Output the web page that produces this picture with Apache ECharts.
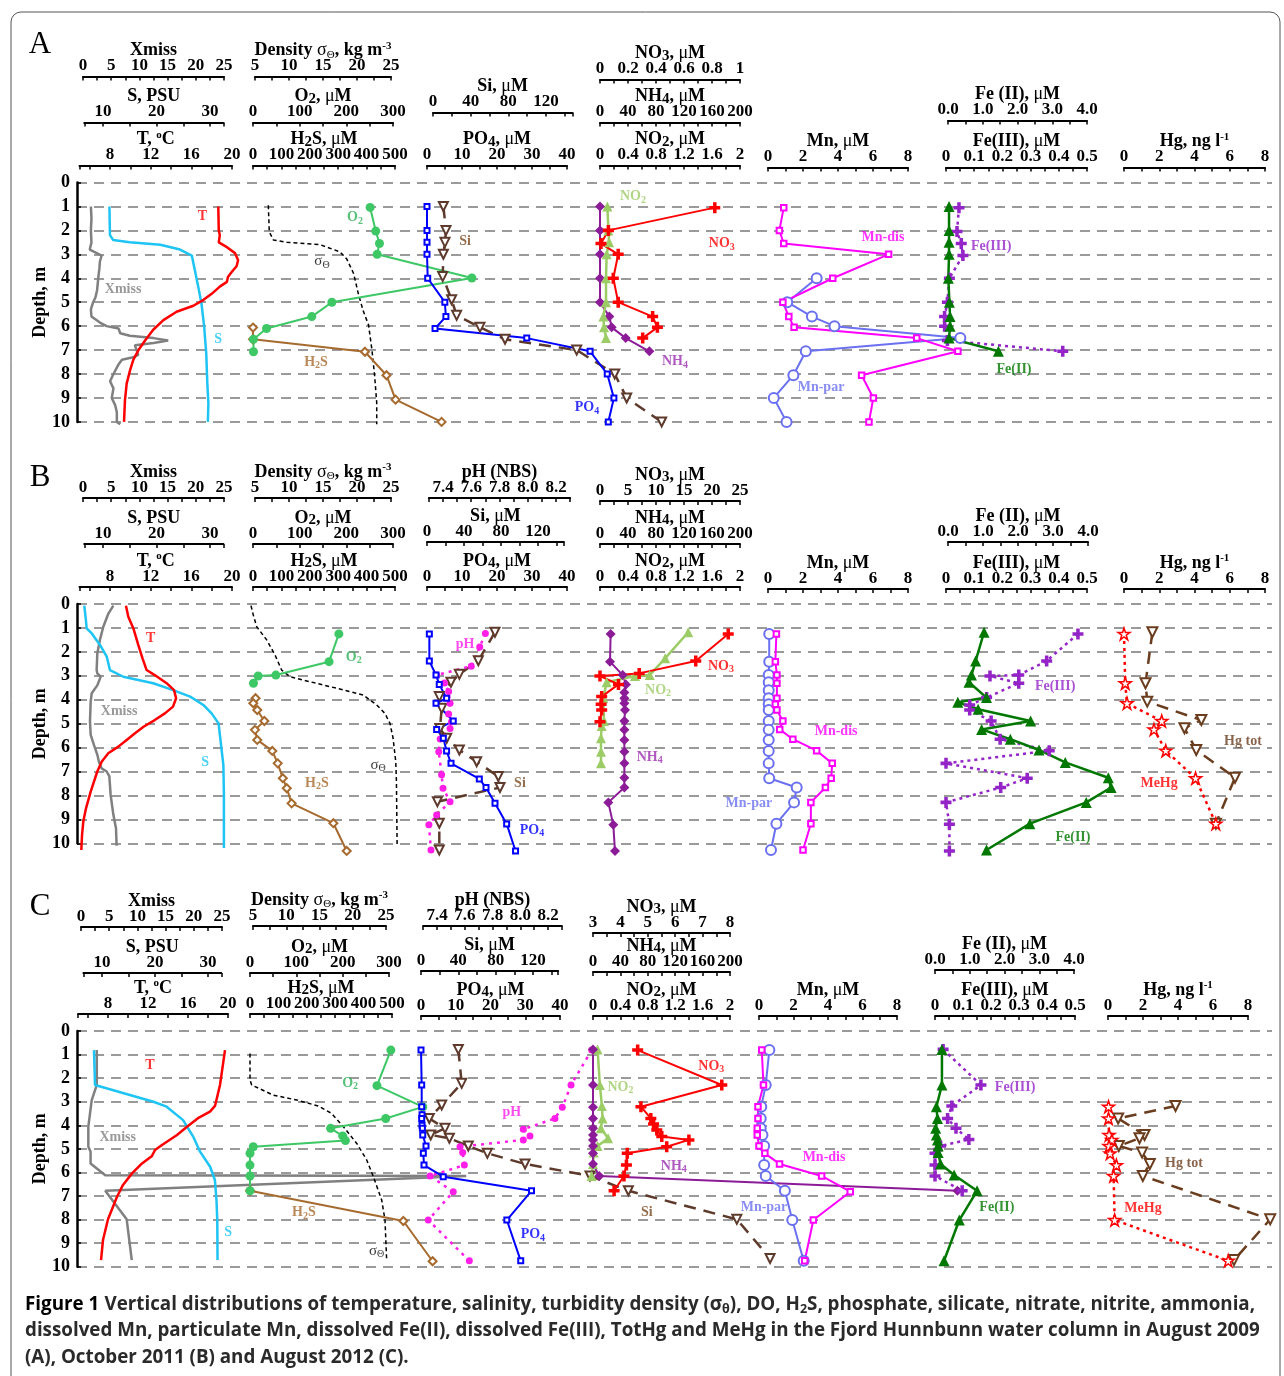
<!DOCTYPE html>
<html><head><meta charset="utf-8">
<script src="https://cdn.jsdelivr.net/npm/echarts@6.0.0/dist/echarts.min.js"></script>
<style>html,body{margin:0;padding:0;background:#fff}#c{width:1284px;height:1376px}</style>
</head><body><div id="c"></div>
<script>
// ================= DATA (each point: [depth m, value]) =================
// ---- Panel A: August 2009 ----
const A_XMISS = [[1.0,1.4],[1.5,1.5],[2.0,1.4],[2.5,1.5],[2.8,1.2],[2.9,2.0],[3.05,3.3],[3.3,3.0],[3.6,2.9],[4.0,2.7],[4.5,2.5],[4.8,2.2],[5.0,1.8],[5.3,1.4],[5.6,1.5],[5.85,3.0],[6.0,4.2],[6.1,6.3],[6.3,6.6],[6.4,8.3],[6.5,12.5],[6.6,15.1],[6.7,12.5],[6.8,9.2],[7.0,9.5],[7.2,9.8],[7.3,8.9],[7.4,6.9],[7.6,6.3],[8.0,5.4],[8.3,4.8],[8.6,5.4],[9.0,5.1],[9.3,5.7],[9.6,6.0],[10.0,6.0],[10.1,6.6]];
const A_SAL = [[1.0,11.2],[2.2,11.3],[2.4,11.9],[2.5,15.0],[2.6,20.7],[2.8,24.4],[3.05,26.6],[3.7,27.2],[4.35,27.8],[5.05,28.4],[6.0,28.9],[7.15,29.3],[8.4,29.5],[9.2,29.7],[10.0,29.6]];
const A_TEMP = [[1.0,18.65],[2.0,18.7],[2.2,18.8],[2.5,18.7],[2.7,19.5],[2.95,20.3],[3.25,20.6],[3.5,20.45],[3.75,19.95],[3.95,19.6],[4.15,19.5],[4.35,18.8],[4.65,18.0],[4.9,17.2],[5.15,16.2],[5.4,14.55],[5.75,13.25],[6.15,12.25],[6.6,11.45],[7.0,10.8],[7.4,10.3],[7.85,9.97],[8.4,9.64],[9.1,9.47],[10.0,9.38]];
const A_DENS = [[0.95,6.96],[2.06,7.1],[2.4,7.7],[2.5,9.66],[2.6,14.6],[2.9,17.5],[3.2,18.5],[3.8,19.5],[4.65,20.2],[5.35,20.9],[5.95,21.7],[7.0,22.2],[8.1,22.6],[9.2,22.9],[10.1,22.9]];
const A_O2 = [[1.04,251],[2.03,263],[2.55,271],[3.0,266],[3.99,469],[5.0,169],[5.6,126],[6.1,29],[6.55,1],[7.07,1]];
const A_H2S = [[6.06,0],[6.55,0],[7.07,394],[8.05,470],[9.07,502],[10.0,664]];
const A_PO4 = [[1.0,0],[2.0,0],[2.5,0],[3.0,0],[4.0,0.2],[5.0,5.1],[5.6,5.4],[6.1,2.3],[6.5,28.5],[7.05,46.6],[8.0,51.5],[9.0,53.4],[10.0,51.8]];
const A_SI = [[1.0,11],[2.0,13.8],[2.5,12.7],[3.0,11],[3.93,10.3],[4.9,19.8],[5.55,25.1],[6.05,49.9],[6.55,76.5],[7.0,152.6],[8.0,193],[9.0,205.7],[10.0,242.8]];
const A_NO2 = [[1.0,0.105],[2.0,0.12],[2.5,0.13],[3.0,0.095],[4.0,0.086],[5.0,0.086],[5.6,0.048],[6.05,0.057],[6.5,0.086]];
const A_NO3 = [[1.05,0.82],[2.0,0.06],[2.55,0.007],[3.0,0.13],[4.0,0.095],[5.0,0.13],[5.6,0.376],[6.05,0.41],[6.5,0.305]];
const A_NH4 = [[1.0,0],[2.0,0],[3.0,0],[4.0,0],[5.0,0],[5.6,13.3],[6.05,16.7],[6.5,36.7],[7.05,70.5]];
const A_MNDIS = [[1.05,0.90],[2.0,0.65],[2.55,0.90],[3.0,6.89],[4.0,3.70],[5.0,0.85],[5.6,1.19],[6.05,1.49],[6.5,8.50],[7.05,10.85],[8.05,5.35],[9.0,6.02],[10.0,5.77]];
const A_MNPAR = [[4.0,2.78],[5.0,1.10],[5.6,2.51],[6.0,3.80],[6.5,10.99],[7.05,2.16],[8.05,1.45],[9.0,0.33],[10.0,1.06]];
const A_FE2 = [[1.0,0.03],[2.0,0.03],[2.5,0.03],[3.0,0.03],[4.0,0.01],[5.0,0.04],[5.6,0.06],[6.0,0.06],[6.5,0.03],[7.05,1.45]];
const A_FE3 = [[1.05,0.046],[2.05,0.039],[2.55,0.054],[3.05,0.06],[4.0,0.012],[5.0,0.005],[5.6,-0.005],[6.0,-0.005],[6.6,0.005],[7.05,0.414]];

// ---- Panel B: October 2011 ----
const B_XMISS = [[0.07,5.38],[0.4,4.5],[0.95,3.6],[1.5,3.0],[2.06,2.54],[2.76,2.42],[2.9,2.54],[3.04,3.13],[3.4,2.54],[3.73,1.54],[4.08,1.36],[4.9,1.24],[5.47,1.36],[5.9,1.95],[6.3,2.54],[6.6,2.84],[6.87,3.3],[7.0,4.2],[7.2,4.67],[7.98,4.9],[8.8,5.38],[9.37,5.85],[10.1,5.96]];
const B_SAL = [[0.07,6.5],[0.6,6.77],[1.02,6.95],[1.23,7.9],[1.71,9.44],[2.2,10.7],[2.76,11.3],[3.04,13.8],[3.31,19.4],[3.6,23.1],[3.87,26.3],[4.22,28.75],[4.57,30.3],[4.99,31.6],[5.96,32.1],[6.73,32.5],[7.98,32.6],[10.2,32.6]];
const B_TEMP = [[0.07,9.57],[0.53,9.8],[1.02,10.3],[1.71,10.78],[2.27,11.2],[2.76,11.6],[2.97,12.4],[3.31,13.57],[3.6,14.3],[3.94,14.5],[4.29,14.2],[4.57,13.4],[4.85,12.4],[5.13,11.3],[5.4,10.46],[5.68,9.64],[5.96,8.82],[6.24,7.83],[6.59,7.18],[7.0,6.75],[7.84,6.1],[8.54,5.64],[9.1,5.37],[9.65,5.25],[10.28,5.18]];
const B_DENS = [[0.07,4.41],[0.46,4.75],[0.95,5.25],[1.5,6.72],[2.13,7.94],[2.76,8.92],[3.04,10.15],[3.25,13.1],[3.52,17.0],[3.8,20.9],[4.22,22.9],[4.57,24.1],[4.99,24.85],[5.6,25.3],[6.59,25.7],[7.42,25.8],[10.1,25.9]];
const B_O2 = [[1.25,184],[2.41,163],[2.97,49],[3.01,11],[3.31,1]];
const B_H2S = [[3.94,9],[4.15,1],[4.43,15],[4.89,40],[5.26,7],[5.68,15],[6.14,68],[6.66,87],[7.28,105],[7.7,119],[8.33,136],[9.16,283],[10.32,330]];
const B_PH = [[1.23,7.70],[1.8,7.66],[2.6,7.60],[2.97,7.355],[3.3,7.41],[3.66,7.44],[4.15,7.45],[4.6,7.44],[4.92,7.46],[5.2,7.45],[5.64,7.38],[6.17,7.37],[7.14,7.39],[7.7,7.40],[8.26,7.45],[8.82,7.355],[9.23,7.30],[10.28,7.315]];
const B_PO4 = [[1.25,0.67],[2.38,0.67],[2.97,2.57],[3.36,3.5],[3.94,5.6],[4.15,2.57],[4.89,7.5],[5.24,2.76],[5.61,4.67],[6.14,5.6],[6.66,6.86],[7.31,14.95],[7.67,16.86],[8.33,19.43],[9.19,22.76],[10.32,25.3]];
const B_SI = [[1.18,73.5],[2.37,55.5],[2.94,35],[3.27,25.9],[3.87,13.3],[4.36,15.9],[5.2,14],[5.61,21.3],[6.1,35],[6.59,53.7],[7.21,77.1],[7.67,78.9],[8.26,11.2],[9.16,13.3],[10.28,13.3]];
const B_NO3 = [[1.25,22.9],[2.38,17.1],[2.9,7.0],[3.01,0],[3.36,3.3],[3.87,0.3],[4.19,0.2],[4.43,0.3],[4.92,0]];
const B_NO2 = [[1.18,1.26],[2.27,0.93],[2.97,0.71],[3.01,0.5],[3.27,0.095],[3.94,0.048],[4.89,0.057],[5.1,0.024],[5.61,0.014],[6.17,0.014],[6.66,0.014]];
const B_NH4 = [[1.25,15.2],[2.41,14.3],[2.97,32.4],[3.36,37.1],[3.7,34.8],[3.94,34.8],[4.15,34.8],[4.43,35.7],[4.89,34.8],[5.26,34.8],[5.68,34.8],[6.17,34.8],[6.66,34.8],[7.26,34.8],[7.67,34.8],[8.29,11.9],[9.23,19.0],[10.32,21.4]];
const B_MNDIS = [[1.25,0.48],[2.41,0.42],[2.97,0.51],[3.31,0.51],[3.94,0.51],[4.19,0.42],[4.43,0.51],[4.89,0.85],[5.24,0.67],[5.65,1.42],[6.13,2.78],[6.66,3.67],[7.28,3.61],[7.67,3.28],[8.29,2.45],[9.18,2.45],[10.28,2.0]];
const B_MNPAR = [[1.25,0.07],[2.41,0.07],[2.97,0.04],[3.27,0.04],[3.6,0.04],[3.94,0.04],[4.19,0.04],[4.43,0.04],[4.89,0.04],[5.26,0.04],[5.68,0.04],[6.14,0.04],[6.66,0.04],[7.28,0.07],[7.67,1.64],[8.29,1.49],[9.18,0.48],[10.28,0.17]];
const B_FE2 = [[1.18,1.03],[2.38,0.79],[2.97,0.67],[3.27,0.60],[3.91,1.10],[4.11,0.28],[4.4,0.86],[4.89,2.36],[5.24,0.96],[5.65,1.78],[6.1,2.60],[6.62,3.35],[7.26,4.58],[7.67,4.66],[8.29,3.95],[9.18,2.34],[10.28,1.10]];
const B_FE3 = [[1.25,0.468],[2.38,0.357],[2.97,0.258],[3.01,0.156],[3.31,0.258],[3.91,0.144],[4.22,0.084],[4.43,0.084],[4.89,0.16],[5.65,0.192],[6.13,0.366],[6.66,0],[7.28,0.288],[7.67,0.194],[8.29,0],[9.2,0.012],[10.32,0.012]];
const B_MEHG = [[1.25,0.0],[3.31,0.07],[4.15,0.17],[4.89,2.14],[5.24,1.70],[6.13,2.37],[7.28,4.06],[9.18,5.21]];
const B_HGTOT = [[1.18,1.61],[3.31,1.22],[4.08,1.32],[4.85,4.39],[5.19,3.43],[6.1,4.1],[7.26,6.3],[9.18,5.21]];

// ---- Panel C: August 2012 ----
const C_XMISS = [[0.81,2.8],[2.29,2.8],[2.93,1.9],[4.06,1.3],[4.91,1.3],[5.12,1.7],[5.62,1.7],[6.12,4.3],[6.15,68.3],[6.78,4.3],[7.99,8.1],[9.72,9.0]];
const C_SAL = [[0.81,8.49],[2.29,8.68],[3.0,19.7],[3.21,22.2],[3.78,25.3],[4.48,27.2],[5.12,28.5],[5.76,30.4],[6.32,31.3],[7.17,31.6],[8.02,31.75],[9.72,31.8]];
const C_TEMP = [[0.81,19.7],[2.29,19.2],[3.18,18.7],[3.42,18.2],[3.7,17.0],[4.06,15.9],[4.41,14.9],[4.84,13.4],[5.05,12.7],[5.3,12.4],[5.62,11.4],[6.04,10.4],[6.53,9.5],[7.03,8.9],[7.99,8.0],[8.87,7.5],[9.72,7.3]];
const C_DENS = [[0.95,4.55],[2.08,4.55],[2.29,4.8],[2.72,8.05],[2.93,11.6],[3.18,14.8],[3.49,16.8],[4.06,18.6],[4.77,20.6],[5.47,22.1],[6.18,23.1],[7.17,24.35],[8.02,24.85],[9.72,25.1]];
const C_O2 = [[0.81,304],[2.32,274],[3.22,373],[3.71,293],[4.13,174],[4.45,200],[4.65,206],[4.91,7],[5.19,0],[5.69,0],[6.15,0],[6.78,0]];
const C_H2S = [[6.78,0],[8.06,540],[9.77,643]];
const C_PO4 = [[0.81,0],[2.29,0.2],[3.21,0.2],[3.55,0.3],[3.71,0.2],[4.0,0.3],[4.13,0.4],[4.41,0.5],[4.88,1.44],[5.19,0.67],[5.69,0.86],[6.18,6.4],[6.78,31.8],[8.02,24.7],[9.75,28.7]];
const C_PH = [[0.81,8.515],[2.29,8.366],[3.24,8.303],[3.71,8.25],[4.17,8.022],[4.46,8.07],[4.62,8.022],[4.91,7.566],[5.16,7.585],[5.69,7.597],[6.15,7.35],[6.82,7.517],[8.02,7.337],[9.75,7.633]];
const C_SI = [[0.78,40],[2.22,43.6],[3.14,22.2],[3.71,8.9],[4.13,25.7],[4.41,10.4],[4.55,30.4],[4.88,50.7],[5.19,71.1],[5.64,111.5],[6.15,181.1],[6.78,222.2],[7.99,338.4],[9.65,374]];
const C_NO2 = [[0.78,0.067],[2.29,0.1],[3.18,0.13],[3.71,0.14],[4.13,0.115],[4.55,0.22],[4.88,0.067],[5.16,0.01],[5.64,0],[6.15,-0.02]];
const C_NH4 = [[0.78,0],[2.29,0],[3.24,0],[3.71,0],[4.13,0],[4.41,0],[4.62,0],[4.88,0],[5.19,0],[5.64,0],[6.15,9.1],[6.78,532]];
const C_NO3 = [[0.81,4.63],[2.29,7.70],[3.21,4.75],[3.71,5.11],[3.95,5.21],[4.2,5.33],[4.48,5.51],[4.62,6.5],[4.91,5.69],[5.19,4.25],[5.69,4.22],[6.15,4.13],[6.78,3.77]];
const C_MNDIS = [[0.81,0.16],[2.29,0.26],[3.21,-0.06],[3.71,-0.06],[4.13,-0.1],[4.41,-0.1],[4.88,0],[5.19,0.34],[5.64,1.19],[6.15,3.63],[6.82,5.29],[8.02,3.15],[9.75,2.65]];
const C_MNPAR = [[0.81,0.6],[2.29,0.39],[3.21,0.13],[3.71,0.1],[4.13,0.1],[4.41,0.2],[4.88,0.3],[5.69,0.3],[6.15,0.39],[6.78,1.5],[8.02,1.93],[9.75,2.59]];
const C_FE2 = [[0.78,0.2],[2.29,0.2],[3.21,0.04],[3.71,0.07],[4.13,0.02],[4.41,0.04],[4.62,0.07],[4.88,0.09],[5.16,0.09],[5.64,0.16],[6.11,0.55],[6.78,1.21],[8.02,0.70],[9.75,0.26]];
const C_FE3 = [[0.78,0.029],[2.29,0.164],[3.18,0.06],[3.71,0.045],[4.13,0.075],[4.6,0.121],[4.88,0.02],[5.19,0],[5.69,0],[6.15,0],[6.78,0.097]];
const C_MEHG = [[3.21,0.03],[3.71,0.03],[4.41,0.06],[4.62,0.22],[4.88,0.06],[5.19,0.12],[5.69,0.48],[6.15,0.32],[8.02,0.38],[9.75,6.87]];
const C_HGTOT = [[3.18,3.86],[3.71,0.58],[4.41,2.09],[4.55,1.8],[4.88,0.62],[5.16,1.95],[5.64,2.39],[6.15,1.99],[7.99,9.27],[9.72,7.2]];

// ---- tick labels ----
const DEPTH_TICKS = [0,1,2,3,4,5,6,7,8,9,10];
const XMISS_TICKS = [0,5,10,15,20,25];
const DENS_TICKS = [5,10,15,20,25];
const SAL_TICKS = [10,20,30];
const O2_TICKS = [0,100,200,300];
const TEMP_TICKS = [8,12,16,20];
const H2S_TICKS = [0,100,200,300,400,500];
const PH_TICKS = [7.4,7.6,7.8,8.0,8.2];
const SI_TICKS = [0,40,80,120];
const PO4_TICKS = [0,10,20,30,40];
const NO3_TICKS_A = [0,0.2,0.4,0.6,0.8,1];
const NO3_TICKS_B = [0,5,10,15,20,25];
const NO3_TICKS_C = [3,4,5,6,7,8];
const NH4_TICKS = [0,40,80,120,160,200];
const NO2_TICKS = [0,0.4,0.8,1.2,1.6,2];
const MN_TICKS = [0,2,4,6,8];
const FE2_TICKS = [0,1,2,3,4];
const FE3_TICKS = [0,0.1,0.2,0.3,0.4,0.5];
const HG_TICKS = [0,2,4,6,8];

// ---- in-plot annotations: [text, series, value, depth] ----
const A_LABELS = [['T','temp',17.1,1.42],['S','sal',31.5,6.57],['Xmiss','xmiss',7.1,4.48],['O_2','o2',218.6,1.46],['σ_Θ','dens',14.85,3.3],['H_2S','h2s',222,7.5],['Si','si',34,2.47],['PO_4','po4',45.7,9.41],['NO_2','no2',0.47,0.59],['NO_3','no3',0.87,2.55],['NH_4','nh4',107,7.49],['Mn-dis','mndis',6.57,2.3],['Mn-par','mnpar',3.03,8.54],['Fe(III)','fe3',0.16,2.68],['Fe(II)','fe2',1.9,7.82]];
const B_LABELS = [['T','temp',12.0,1.42],['Xmiss','xmiss',6.4,4.48],['S','sal',29.1,6.61],['O_2','o2',216,2.22],['H_2S','h2s',225,7.49],['σ_Θ','dens',23.1,6.74],['pH','ph',7.556,1.67],['Si','si',100.5,7.49],['PO_4','po4',30,9.46],['NO_3','no3',21.6,2.59],['NO_2','no2',0.83,3.6],['NH_4','nh4',71,6.4],['Mn-dis','mndis',3.89,5.31],['Mn-par','mnpar',-1.09,8.33],['Fe(III)','fe3',0.387,3.43],['Fe(II)','fe2',3.57,9.75],['Hg tot','hgtot',6.75,5.73],['MeHg','mehg',1.99,7.49]];
const C_LABELS = [['T','temp',12.2,1.45],['Xmiss','xmiss',6.5,4.51],['S','sal',33.8,8.55],['O_2','o2',216,2.21],['H_2S','h2s',190,7.7],['σ_Θ','dens',23.6,9.32],['pH','ph',7.94,3.45],['Si','si',242,7.7],['PO_4','po4',32.2,8.64],['NO_3','no3',7.32,1.49],['NO_2','no2',0.4,2.38],['NH_4','nh4',118,5.74],['Mn-dis','mndis',3.77,5.36],['Mn-par','mnpar',0.29,7.49],['Fe(III)','fe3',0.286,2.38],['Fe(II)','fe2',1.78,7.49],['Hg tot','hgtot',4.34,5.62],['MeHg','mehg',2.0,7.53]];

// ================= LAYOUT & STYLE =================
const SERIF = '"Liberation Serif","Times New Roman",Times,serif';
const PLUS = 'path://M3.4,0H6.6V3.4H10V6.6H6.6V10H3.4V6.6H0V3.4H3.4Z';
const STAR = 'path://M5,0L6.2,3.6L10,3.6L6.9,5.8L8.1,9.5L5,7.2L1.9,9.5L3.1,5.8L0,3.6L3.8,3.6Z';
const STYLE = {
  xmiss:{c:'#808080', w:2.5},
  sal:{c:'#1ec4f4', w:2.5},
  temp:{c:'#ff0000', w:2.5},
  dens:{c:'#000000', w:1.5, dash:[4,3], lc:'#000'},
  o2:{c:'#3dc765', w:2, sym:'circle', size:9, lc:'#30b058'},
  h2s:{c:'#a66a2e', w:2, sym:'emptyDiamond', size:8, bw:3},
  po4:{c:'#0000ff', w:2, sym:'emptyRect', size:5, bw:3},
  si:{c:'#5e3a2c', w:2.5, dash:[12,8], sym:'emptyTriangle', rot:180, size:9, bw:1.5, lc:'#7a4a22'},
  ph:{c:'#ff1ee8', w:2.5, dash:[3,5], sym:'circle', size:7},
  no3:{c:'#ff0000', w:2, sym:PLUS, size:11},
  no2:{c:'#9ccc66', w:2.5, sym:'triangle', size:10},
  nh4:{c:'#8c1b98', w:2, sym:'diamond', size:10, lc:'#9b30b0'},
  mndis:{c:'#ff00ff', w:2, sym:'emptyRect', size:5.5, bw:3.5},
  mnpar:{c:'#6a70f0', w:2, sym:'emptyCircle', size:10, bw:1.5},
  fe2:{c:'#007800', w:2.5, sym:'triangle', size:11},
  fe3:{c:'#9424c8', w:2.5, dash:[3,4], sym:PLUS, size:11},
  mehg:{c:'#ff0000', w:2.5, dash:[3,4], sym:STAR, size:12, bw:1.5, hollow:true},
  hgtot:{c:'#6b3d1f', w:2.5, dash:[12,8], sym:'emptyTriangle', rot:180, size:10, bw:1.5}
};
const SERIES_AXIS = {xmiss:'xmiss',sal:'sal',temp:'temp',dens:'dens',o2:'o2',h2s:'h2s',po4:'po4',si:'si',ph:'ph',no3:'no3',no2:'no2',nh4:'nh4',mndis:'mn',mnpar:'mn',fe2:'fe2',fe3:'fe3',mehg:'hg',hgtot:'hg'};
const TITLES = {
  xmiss:'{t|Xmiss}',
  dens:'{t|Density }{g|σ}{gs|Θ}{t|, kg m}{p|-3}',
  sal:'{t|S, PSU}',
  o2:'{t|O}{s|2}{t|, }{u|μ}{t|M}',
  temp:'{t|T, }{p|o}{t|C}',
  h2s:'{t|H}{s|2}{t|S, }{u|μ}{t|M}',
  ph:'{t|pH (NBS)}',
  si:'{t|Si, }{u|μ}{t|M}',
  po4:'{t|PO}{s|4}{t|, }{u|μ}{t|M}',
  no3:'{t|NO}{s|3}{t|, }{u|μ}{t|M}',
  nh4:'{t|NH}{s|4}{t|, }{u|μ}{t|M}',
  no2:'{t|NO}{s|2}{t|, }{u|μ}{t|M}',
  mn:'{t|Mn, }{u|μ}{t|M}',
  fe2:'{t|Fe (II), }{u|μ}{t|M}',
  fe3:'{t|Fe(III), }{u|μ}{t|M}',
  hg:'{t|Hg, ng l}{p|-1}'
};
const TITLE_RICH = {
  t:{fontFamily:SERIF,fontWeight:'bold',fontSize:18,lineHeight:20,color:'#000'},
  s:{fontFamily:SERIF,fontWeight:'bold',fontSize:15,lineHeight:12,verticalAlign:'bottom',color:'#000'},
  p:{fontFamily:SERIF,fontWeight:'bold',fontSize:11,lineHeight:10,verticalAlign:'top',color:'#000'},
  u:{fontFamily:SERIF,fontWeight:'normal',fontSize:18,lineHeight:20,color:'#000'},
  g:{fontFamily:SERIF,fontWeight:'normal',fontSize:18,lineHeight:20,color:'#000'},
  gs:{fontFamily:SERIF,fontWeight:'normal',fontSize:11,lineHeight:10,verticalAlign:'bottom',color:'#000'}
};
const LABELS_OF = {xmiss:XMISS_TICKS,dens:DENS_TICKS,sal:SAL_TICKS,o2:O2_TICKS,temp:TEMP_TICKS,h2s:H2S_TICKS,ph:PH_TICKS,si:SI_TICKS,po4:PO4_TICKS,nh4:NH4_TICKS,no2:NO2_TICKS,mn:MN_TICKS,fe2:FE2_TICKS,fe3:FE3_TICKS,hg:HG_TICKS};
const STEP_OF = {xmiss:2.5,dens:2.5,sal:5,o2:50,temp:2,h2s:50,ph:0.1,si:20,po4:5,nh4:20,no2:0.2,mn:1,fe2:0.5,fe3:0.05,hg:1};
const CHART_W = 1284;

// axis layout: [v0, px0, v1, px1, min, max, offset above plot]
const PANELS = [
 {id:'A', top:182.5, height:239.4, letterY:45, no3Labels:NO3_TICKS_A, no3Step:0.1,
  axes:{xmiss:[0,83,25,224,0,25,106], dens:[5,255,25,391,5,25,106], no3:[0,600,1,740,0,1,103],
        sal:[10,103,30,210,6.5,32.5,60], o2:[0,253,300,393,0,300,60], si:[0,433,120,546,0,148,70], nh4:[0,600,200,740,0,200,60], fe2:[0,948,4,1087,0,4,62],
        temp:[8,110,20,232,5,20,17], h2s:[0,253,500,395,0,500,17], po4:[0,427,40,567,0,40,17], no2:[0,600,2,740,0,2,17],
        mn:[0,768,8,908,0,8,15], fe3:[0,946,0.5,1087,0,0.5,15], hg:[0,1124,8,1265,0,8,15]},
  series:[['xmiss',A_XMISS],['sal',A_SAL],['temp',A_TEMP],['dens',A_DENS],['h2s',A_H2S],['o2',A_O2],['si',A_SI],['po4',A_PO4],['nh4',A_NH4],['no2',A_NO2],['no3',A_NO3],['mnpar',A_MNPAR],['mndis',A_MNDIS],['fe3',A_FE3],['fe2',A_FE2]],
  labels:A_LABELS},
 {id:'B', top:604, height:239.3, letterY:478, no3Labels:NO3_TICKS_B, no3Step:2.5,
  axes:{xmiss:[0,83,25,224,0,25,106], dens:[5,255,25,391,5,25,106], ph:[7.4,443,8.2,556,7.3,8.3,106], no3:[0,600,25,740,0,25,103],
        sal:[10,103,30,210,6.5,32.5,60], o2:[0,253,300,393,0,300,60], si:[0,427,120,538,0,148,62], nh4:[0,600,200,740,0,200,60], fe2:[0,948,4,1088,0,4,62],
        temp:[8,110,20,232,5,20,17], h2s:[0,253,500,395,0,500,17], po4:[0,427,40,567,0,40,17], no2:[0,600,2,740,0,2,17],
        mn:[0,768,8,908,0,8,15], fe3:[0,946,0.5,1087,0,0.5,15], hg:[0,1124,8,1265,0,8,15]},
  series:[['xmiss',B_XMISS],['sal',B_SAL],['temp',B_TEMP],['dens',B_DENS],['h2s',B_H2S],['o2',B_O2],['si',B_SI],['ph',B_PH],['po4',B_PO4],['nh4',B_NH4],['no2',B_NO2],['no3',B_NO3],['mnpar',B_MNPAR],['mndis',B_MNDIS],['fe3',B_FE3],['fe2',B_FE2],['hgtot',B_HGTOT],['mehg',B_MEHG]],
  labels:B_LABELS},
 {id:'C', top:1031, height:235.7, letterY:907, no3Labels:NO3_TICKS_C, no3Step:0.5,
  axes:{xmiss:[0,81,25,222,0,25,104], dens:[5,253,25,386,5,25,105], ph:[7.4,437,8.2,548,7.3,8.3,105], no3:[3,593,8,730,3,8,98],
        sal:[10,102,30,208,6.5,32.5,58], o2:[0,250,300,389,0,300,58], si:[0,421,120,533,0,147,60], nh4:[0,593,200,730,0,200,59], fe2:[0,935,4,1074,0,4,61],
        temp:[8,108,20,228,5,20,17], h2s:[0,250,500,392,0,500,17], po4:[0,421,40,560,0,40,15], no2:[0,593,2,730,0,2,15],
        mn:[0,759,8,897,0,8,15], fe3:[0,935,0.5,1075,0,0.5,15], hg:[0,1108,8,1248,0,8,15]},
  series:[['xmiss',C_XMISS],['sal',C_SAL],['temp',C_TEMP],['dens',C_DENS],['h2s',C_H2S],['o2',C_O2],['si',C_SI],['ph',C_PH],['po4',C_PO4],['no2',C_NO2],['nh4',C_NH4],['no3',C_NO3],['mnpar',C_MNPAR],['mndis',C_MNDIS],['fe3',C_FE3],['fe2',C_FE2],['hgtot',C_HGTOT],['mehg',C_MEHG]],
  labels:C_LABELS}
];

// ================= BUILD =================
function mkTicks(min, max, step) {
  const out = [min];
  for (let k = Math.ceil(min / step - 1e-9); k * step <= max + 1e-9; k++) {
    const v = +(k * step).toFixed(4);
    if (Math.abs(v - min) > 1e-6 && Math.abs(v - max) > 1e-6) out.push(v);
  }
  out.push(max);
  return out;
}
function fmt(key, v) {
  if (key === 'ph' || key === 'fe2') return v.toFixed(1);
  return String(+v.toFixed(3));
}
function richText(txt) {
  let out = '', buf = '';
  const flush = () => { if (buf) { out += '{b|' + buf + '}'; buf = ''; } };
  for (let i = 0; i < txt.length; i++) {
    if (txt[i] === '_') { flush(); out += '{s|' + txt[i + 1] + '}'; i++; }
    else buf += txt[i];
  }
  flush();
  return out;
}

const option = {animation:false, backgroundColor:'#ffffff', textStyle:{fontFamily:SERIF},
  grid:[], xAxis:[], yAxis:[], series:[], graphic:[]};

function hiddenY(gi) { return {gridIndex:gi, type:'value', min:0, max:10, inverse:true, show:false}; }

PANELS.forEach(P => {
  // base grid: depth axis + dashed depth lines
  const bi = option.grid.length;
  option.grid.push({left:77, top:P.top, width:1195, height:P.height});
  option.xAxis.push({gridIndex:bi, type:'value', show:false, min:0, max:1});
  option.yAxis.push({gridIndex:bi, type:'value', min:0, max:10, inverse:true, position:'left',
    axisLine:{show:true, onZero:false, lineStyle:{color:'#000', width:2.5}},
    axisTick:{show:true, inside:true, length:4, lineStyle:{color:'#000', width:1.5}, customValues:DEPTH_TICKS},
    axisLabel:{show:true, customValues:DEPTH_TICKS, margin:7, formatter:v => String(v),
      fontFamily:SERIF, fontWeight:'bold', fontSize:18, color:'#000'},
    splitLine:{show:true, lineStyle:{color:'#7a7a7a', width:1.5, type:[10,7]}},
    name:'Depth, m', nameLocation:'middle', nameGap:28, nameRotate:90, nameMoveOverlap:false,
    nameTextStyle:{fontFamily:SERIF, fontWeight:'bold', fontSize:18, color:'#000'}});

  const dataIdx = {};
  Object.keys(P.axes).forEach(key => {
    const [v0, p0, v1, p1, mn, mx, off] = P.axes[key];
    const px = v => p0 + (v - v0) * (p1 - p0) / (v1 - v0);
    const val = x => v0 + (x - p0) * (v1 - v0) / (p1 - p0);
    // display grid: only the axis of this variable, exactly its own extent
    const gi = option.grid.length;
    const left = px(mn), right = px(mx);
    option.grid.push({left:left, top:P.top, width:right - left, height:P.height});
    const labels = key === 'no3' ? P.no3Labels : LABELS_OF[key];
    const step = key === 'no3' ? P.no3Step : STEP_OF[key];
    option.xAxis.push({gridIndex:gi, type:'value', position:'top', offset:off, min:mn, max:mx,
      axisLine:{show:true, onZero:false, lineStyle:{color:'#000', width:2}},
      axisTick:{show:true, inside:true, length:4, lineStyle:{color:'#000', width:1.5}, customValues:mkTicks(mn, mx, step)},
      splitLine:{show:false},
      axisLabel:{show:true, margin:2, customValues:labels, formatter:v => fmt(key, v),
        fontFamily:SERIF, fontWeight:'bold', fontSize:17, lineHeight:17, color:'#000',
        hideOverlap:false, showMinLabel:true, showMaxLabel:true},
      name:TITLES[key], nameLocation:'middle', nameGap:16, nameMoveOverlap:false,
      nameTextStyle:{rich:TITLE_RICH, fontFamily:SERIF, fontWeight:'bold', fontSize:18, color:'#000'}});
    option.yAxis.push(hiddenY(gi));
    // data grid: same scale, spread over the whole chart width so profiles are not cut
    const di = option.grid.length;
    dataIdx[key] = di;
    option.grid.push({left:0, top:P.top, width:CHART_W, height:P.height});
    option.xAxis.push({gridIndex:di, type:'value', show:false, min:val(0), max:val(CHART_W)});
    option.yAxis.push(hiddenY(di));
  });

  P.series.forEach(([key, data]) => {
    const s = STYLE[key], ai = dataIdx[SERIES_AXIS[key]];
    option.series.push({type:'line', xAxisIndex:ai, yAxisIndex:ai, clip:false, silent:true, z:5,
      data:data.map(([d, v]) => [v, d]),
      symbol:s.sym || 'none', symbolSize:s.size || 0, symbolRotate:s.rot || 0, showSymbol:!!s.sym,
      lineStyle:{color:s.c, width:s.w, type:s.dash || 'solid'},
      itemStyle:s.hollow ? {color:'#fff', borderColor:s.c, borderWidth:s.bw}
                         : {color:s.c, borderColor:s.c, borderWidth:s.bw || 0}});
  });

  P.labels.forEach(([txt, key, v, d]) => {
    const s = STYLE[key], ai = dataIdx[SERIES_AXIS[key]], c = s.lc || s.c, normal = key === 'dens';
    option.series.push({type:'scatter', xAxisIndex:ai, yAxisIndex:ai, clip:false, silent:true, z:20,
      symbol:'circle', symbolSize:0, data:[[v, d]],
      label:{show:true, position:'inside', formatter:richText(txt),
        rich:{b:{fontFamily:SERIF, fontWeight:normal ? 'normal' : 'bold', fontSize:normal ? 15 : 14, lineHeight:17, color:c},
              s:{fontFamily:SERIF, fontWeight:normal ? 'normal' : 'bold', fontSize:10, lineHeight:9, verticalAlign:'bottom', color:c}}}});
  });

  option.graphic.push({type:'text', x:40, y:P.letterY, z:50,
    style:{text:P.id, fontFamily:SERIF, fontSize:31, fill:'#000', align:'center', verticalAlign:'middle'}});
});

// frame
option.graphic.push({type:'rect', z:1, shape:{x:11, y:12, width:1269, height:1385, r:10},
  style:{fill:'none', stroke:'#555', lineWidth:1}});
// caption
const CAP = '"Open Sans","Liberation Sans",Arial,sans-serif';
const capRich = {
  b:{fontFamily:CAP, fontWeight:'bold', fontSize:18.8, fill:'#000'},
  n:{fontFamily:CAP, fontWeight:'bold', fontSize:18.8, fill:'#2a2a2a'},
  ns:{fontFamily:CAP, fontWeight:'bold', fontSize:12.5, fill:'#2a2a2a', verticalAlign:'bottom', lineHeight:15}
};
const CAPTION = [
  '{b|Figure 1} {n|Vertical distributions of temperature, salinity, turbidity density (σ}{ns|θ}{n|), DO, H}{ns|2}{n|S, phosphate, silicate, nitrate, nitrite, ammonia,}',
  '{n|dissolved Mn, particulate Mn, dissolved Fe(II), dissolved Fe(III), TotHg and MeHg in the Fjord Hunnbunn water column in August 2009}',
  '{n|(A), October 2011 (B) and August 2012 (C).}'
];
[1305, 1331, 1358].forEach((y, i) => {
  option.graphic.push({type:'text', x:25, y:y, z:50,
    style:{text:CAPTION[i], rich:capRich, fontSize:18.8, verticalAlign:'middle', align:'left', lineHeight:22}});
});

const chart = echarts.init(document.getElementById('c'), null, {renderer:'canvas', width:1284, height:1376});
chart.setOption(option);
</script></body></html>
